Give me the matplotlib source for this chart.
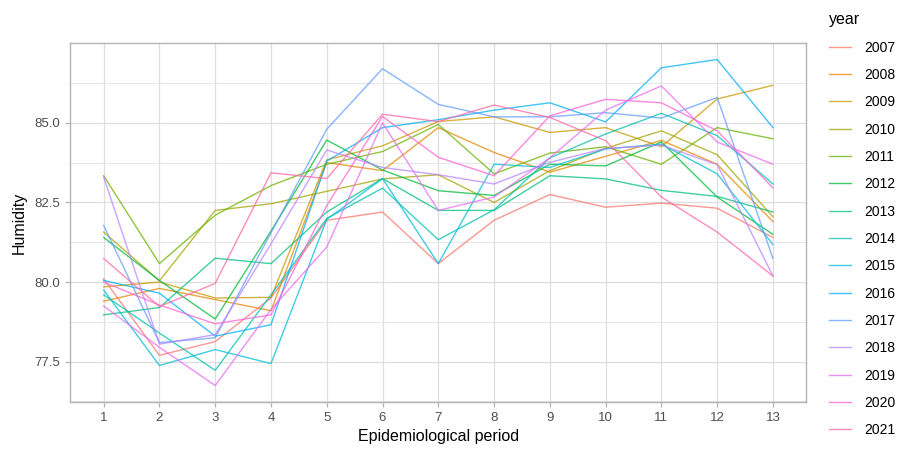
import matplotlib

matplotlib.use("Agg")

import matplotlib.pyplot as plt
from matplotlib.ticker import FixedLocator, MultipleLocator, FormatStrFormatter


periods = list(range(1, 14))
years = list(range(2007, 2022))
y_ticks = [77.5, 80.0, 82.5, 85.0]

# ggplot2 hue palette for 15 groups
colors = [
    "#F8766D", "#E58700", "#C99800", "#A3A500", "#6BB100",
    "#00BA38", "#00BF7D", "#00C0AF", "#00BCD8", "#00B0F6",
    "#619CFF", "#B983FF", "#E76BF3", "#FD61D1", "#FF67A4",
]

h2007 = [80.10, 77.70, 78.13, 79.50, 81.94, 82.20, 80.58, 81.94, 82.75, 82.35, 82.48, 82.32, 81.40]
h2008 = [79.40, 79.80, 79.45, 79.10, 83.75, 83.50, 84.85, 84.07, 83.45, 83.95, 84.45, 83.70, 81.90]
h2009 = [79.85, 80.00, 79.50, 79.52, 83.84, 84.28, 85.04, 85.19, 84.70, 84.85, 84.25, 85.75, 86.18]
h2010 = [81.57, 80.04, 82.25, 82.46, 82.85, 83.24, 83.37, 82.50, 83.50, 84.20, 84.75, 84.00, 82.05]
h2011 = [83.34, 80.58, 82.10, 83.03, 83.70, 84.10, 84.95, 83.40, 84.05, 84.25, 83.70, 84.85, 84.50]
h2012 = [81.40, 80.05, 78.84, 81.60, 84.46, 83.52, 82.87, 82.72, 83.70, 83.65, 84.40, 82.67, 81.50]
h2013 = [78.97, 79.20, 80.75, 80.58, 82.20, 83.25, 82.25, 82.25, 83.34, 83.24, 82.88, 82.69, 82.20]
h2014 = [79.60, 78.40, 77.23, 79.60, 82.00, 82.95, 81.33, 82.27, 83.90, 84.65, 85.30, 84.60, 83.08]
h2015 = [79.75, 77.38, 77.88, 77.44, 81.97, 83.25, 80.58, 83.70, 83.60, 84.18, 84.33, 83.40, 81.18]
h2016 = [80.05, 79.65, 78.30, 78.66, 83.80, 84.85, 85.10, 85.40, 85.63, 85.03, 86.73, 86.99, 84.85]
h2017 = [81.78, 78.10, 78.25, 81.55, 84.80, 86.70, 85.58, 85.19, 85.19, 85.32, 85.15, 85.80, 80.74]
h2018 = [83.30, 78.05, 78.35, 81.20, 84.15, 83.60, 83.37, 83.08, 83.76, 84.20, 84.30, 83.69, 80.19]
h2019 = [79.25, 77.95, 76.75, 79.14, 81.10, 85.00, 82.25, 82.67, 83.90, 85.40, 86.16, 84.40, 83.70]
h2020 = [80.00, 79.28, 78.69, 78.97, 82.40, 85.20, 83.92, 83.34, 85.22, 85.74, 85.63, 84.75, 82.96]
h2021 = [80.74, 79.23, 79.96, 83.43, 83.25, 85.27, 85.04, 85.56, 85.17, 84.44, 82.67, 81.57, 80.19]

humidity = [
    h2007, h2008, h2009, h2010, h2011, h2012, h2013, h2014,
    h2015, h2016, h2017, h2018, h2019, h2020, h2021,
]

plt.rcParams["font.family"] = ["Liberation Sans", "DejaVu Sans"]

fig = plt.figure(figsize=(9, 4.5), dpi=100)
ax = fig.add_axes([0.078, 0.107, 0.818, 0.797])

for year, values, color in zip(years, humidity, colors):
    ax.plot(periods, values, color=color, alpha=0.75, linewidth=1.0, label=str(year))

# ggplot-like 5% expansion
lo = min(min(v) for v in humidity)
hi = max(max(v) for v in humidity)
pad = (hi - lo) * 0.05
ax.set_ylim(lo - pad, hi + pad)
ax.set_xlim(0.4, 13.6)

ax.set_xticks(periods)
ax.yaxis.set_major_locator(FixedLocator(y_ticks))
ax.yaxis.set_minor_locator(MultipleLocator(1.25))
ax.yaxis.set_major_formatter(FormatStrFormatter("%.1f"))

ax.grid(which="major", color="#DEDEDE", linewidth=0.9)
ax.grid(which="minor", axis="y", color="#E6E6E6", linewidth=0.7)
ax.set_axisbelow(True)
for spine in ax.spines.values():
    spine.set_color("#B3B3B3")
    spine.set_linewidth(1.0)
ax.tick_params(which="major", colors="#B3B3B3", labelcolor="#4D4D4D",
               labelsize=9.5, length=3.5, width=0.9)
ax.tick_params(which="minor", length=0)

ax.set_xlabel("Epidemiological period", fontsize=11.5, labelpad=4)
ax.set_ylabel("Humidity", fontsize=11.5, labelpad=6)

leg = fig.legend(
    loc="upper left",
    bbox_to_anchor=(0.915, 0.985),
    frameon=False,
    title="year",
    fontsize=10,
    title_fontsize=11.5,
    handlelength=1.6,
    labelspacing=0.96,
    handletextpad=0.9,
    borderaxespad=0,
)
leg._legend_box.align = "left"
for line in leg.get_lines():
    line.set_linewidth(1.0)

fig.savefig("out.png", dpi=100)
